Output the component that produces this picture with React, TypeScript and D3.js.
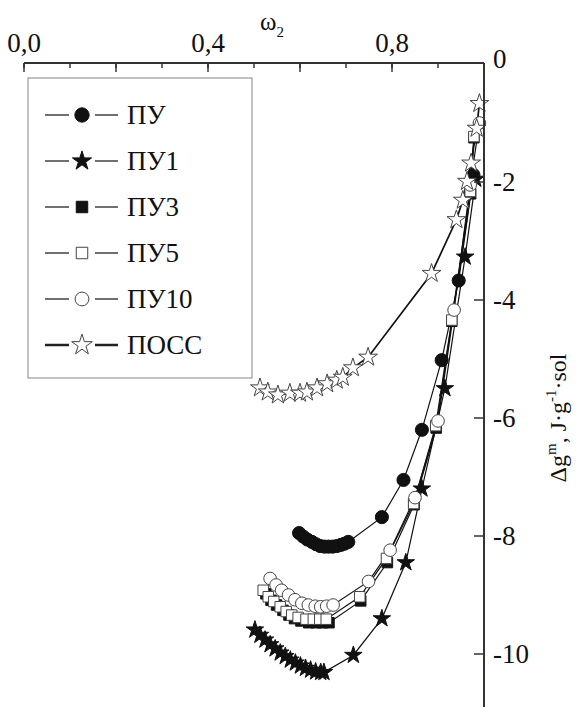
import * as d3 from "d3";

// ω2 (top axis) and Δg^m (right axis) values
const puX = [0.598, 0.607, 0.616, 0.626, 0.635, 0.644, 0.653, 0.662, 0.671, 0.68, 0.689, 0.697, 0.705, 0.778, 0.825, 0.865, 0.908, 0.945, 0.977];
const puY = [-7.95, -8.01, -8.06, -8.1, -8.14, -8.17, -8.18, -8.18, -8.18, -8.17, -8.15, -8.13, -8.1, -7.68, -7.05, -6.2, -5.02, -3.67, -1.88];

const pu1X = [0.502, 0.513, 0.524, 0.535, 0.546, 0.557, 0.568, 0.579, 0.59, 0.601, 0.612, 0.623, 0.634, 0.645, 0.652, 0.716, 0.778, 0.83, 0.865, 0.915, 0.959, 0.982];
const pu1Y = [-9.59, -9.68, -9.76, -9.84, -9.91, -9.98, -10.04, -10.1, -10.15, -10.2, -10.24, -10.27, -10.3, -10.31, -10.31, -10.02, -9.4, -8.45, -7.2, -5.5, -3.27, -1.95];

const pu3X = [0.526, 0.537, 0.549, 0.563, 0.576, 0.588, 0.602, 0.619, 0.635, 0.649, 0.663, 0.732, 0.79, 0.848, 0.896, 0.93, 0.971, 0.978];
const pu3Y = [-8.98, -9.09, -9.17, -9.26, -9.34, -9.4, -9.44, -9.47, -9.47, -9.47, -9.47, -9.1, -8.45, -7.47, -6.17, -4.36, -2.2, -1.25];

const pu5X = [0.52, 0.531, 0.543, 0.557, 0.57, 0.582, 0.596, 0.613, 0.629, 0.643, 0.657, 0.73, 0.788, 0.847, 0.895, 0.93, 0.97, 0.978];
const pu5Y = [-8.92, -9.03, -9.11, -9.2, -9.28, -9.34, -9.38, -9.41, -9.41, -9.41, -9.41, -9.03, -8.38, -7.45, -6.13, -4.34, -2.16, -1.23];

const pu10X = [0.535, 0.548, 0.56, 0.575, 0.589, 0.604, 0.618, 0.633, 0.645, 0.658, 0.672, 0.749, 0.796, 0.85, 0.9, 0.935, 0.97, 0.99];
const pu10Y = [-8.72, -8.83, -8.92, -9.0, -9.08, -9.14, -9.17, -9.19, -9.2, -9.19, -9.17, -8.77, -8.24, -7.35, -6.05, -4.17, -2.05, -1.0];

const possX = [0.513, 0.53, 0.552, 0.578, 0.6, 0.615, 0.637, 0.659, 0.68, 0.693, 0.715, 0.748, 0.886, 0.94, 0.954, 0.963, 0.972, 0.984, 0.99];
const possY = [-5.49, -5.56, -5.61, -5.58, -5.58, -5.56, -5.49, -5.42, -5.36, -5.31, -5.15, -4.97, -3.55, -2.64, -2.31, -1.99, -1.68, -1.09, -0.67];

const names = ["ПУ", "ПУ1", "ПУ3", "ПУ5", "ПУ10", "ПОСС"];
const xMinor = [0, 0.1, 0.2, 0.3, 0.4, 0.5, 0.6, 0.7, 0.8, 0.9, 1.0];
const xMajor = [0, 0.2, 0.4, 0.6, 0.8, 1.0];
const xLabelVals = [0, 0.4, 0.8];
const xLabels = ["0,0", "0,4", "0,8"];
const yTickVals = [-2, -4, -6, -8, -10];
const yLabels = ["-2", "-4", "-6", "-8", "-10"];

const W = 579;
const H = 707;
const FONT = "'Liberation Serif', 'DejaVu Serif', serif";

const x = d3.scaleLinear().domain([0, 1]).range([24, 484]);
const y = d3.scaleLinear().domain([0, -10]).range([64, 654]);
const top = 63;

const styles = [
  { type: d3.symbolCircle, size: 135, fill: "#111", stroke: "#111", lw: 1.2 },
  { type: d3.symbolStar, size: 95, fill: "#111", stroke: "#111", lw: 1.2 },
  { type: d3.symbolSquare, size: 110, fill: "#111", stroke: "#111", lw: 1.2 },
  { type: d3.symbolSquare, size: 110, fill: "#fff", stroke: "#444", lw: 1.2 },
  { type: d3.symbolCircle, size: 125, fill: "#fff", stroke: "#444", lw: 1.2 },
  { type: d3.symbolStar, size: 110, fill: "#fff", stroke: "#444", lw: 1.7 },
];

const series = [
  { xs: puX, ys: puY },
  { xs: pu1X, ys: pu1Y },
  { xs: pu3X, ys: pu3Y },
  { xs: pu5X, ys: pu5Y },
  { xs: pu10X, ys: pu10Y },
  { xs: possX, ys: possY },
];

export default function App() {
  const pathFor = (xs: number[], ys: number[]) =>
    d3
      .line<[number, number]>()
      .x((d) => x(d[0]))
      .y((d) => y(d[1]))(xs.map((v, i) => [v, ys[i]]) as [number, number][]) || "";

  return (
    <svg
      width={W}
      height={H}
      style={{ position: "absolute", left: 0, top: 0, background: "#fff", fontFamily: FONT }}
    >
      <rect width={W} height={H} fill="#fff" />

      {/* lines */}
      {series.map((s, k) => (
        <path key={"l" + k} d={pathFor(s.xs, s.ys)} fill="none" stroke="#111" strokeWidth={styles[k].lw} />
      ))}

      {/* markers */}
      {series.map((s, k) => (
        <g key={"m" + k}>
          {s.xs.map((v, i) => (
            <path
              key={i}
              transform={`translate(${x(v)},${y(s.ys[i])})`}
              d={d3.symbol().type(styles[k].type).size(styles[k].size)() || ""}
              fill={styles[k].fill}
              stroke={styles[k].stroke}
              strokeWidth={1}
            />
          ))}
        </g>
      ))}

      {/* top axis */}
      <line x1={x(0)} x2={x(1)} y1={top} y2={top} stroke="#333" strokeWidth={2} />
      {xMinor.map((v) => (
        <line key={"mi" + v} x1={x(v)} x2={x(v)} y1={top} y2={top + 5} stroke="#333" strokeWidth={1.5} />
      ))}
      {xMajor.map((v) => (
        <line key={"ma" + v} x1={x(v)} x2={x(v)} y1={top} y2={top + 9} stroke="#333" strokeWidth={1.5} />
      ))}
      {xLabelVals.map((v, i) => (
        <text key={"xl" + v} x={x(v)} y={52} textAnchor="middle" fontSize={27} fill="#111">
          {xLabels[i]}
        </text>
      ))}
      <text x={272} y={30} textAnchor="middle" fontSize={25} fill="#111">
        ω<tspan fontSize={15} dy={7}>2</tspan>
      </text>

      {/* right axis */}
      <line x1={x(1)} x2={x(1)} y1={top} y2={H} stroke="#333" strokeWidth={2} />
      {yTickVals.map((v) => (
        <line key={"yt" + v} x1={x(1) - 10} x2={x(1)} y1={y(v)} y2={y(v)} stroke="#333" strokeWidth={1.5} />
      ))}
      {yTickVals.map((v, i) => (
        <text key={"yl" + v} x={x(1) + 9} y={y(v)} dy="0.35em" fontSize={27} fill="#111">
          {yLabels[i]}
        </text>
      ))}
      <text x={x(1) + 9} y={y(0) - 5} dy="0.35em" fontSize={27} fill="#111">
        0
      </text>
      <text
        transform={`translate(566,418) rotate(-90)`}
        textAnchor="middle"
        fontSize={24}
        fill="#111"
      >
        Δg<tspan fontSize={15} dy={-10}>m</tspan>
        <tspan dy={10}>, J·g</tspan>
        <tspan fontSize={15} dy={-10}>-1</tspan>
        <tspan dy={10}>·sol</tspan>
      </text>

      {/* legend */}
      <rect x={28} y={78} width={224} height={300} fill="#fff" stroke="#999" strokeWidth={1.2} />
      {names.map((n, i) => {
        const ly = 115 + i * 46;
        const st = styles[i];
        return (
          <g key={"lg" + n}>
            <line x1={45} x2={69} y1={ly} y2={ly} stroke="#222" strokeWidth={i === 5 ? 2.5 : 1.3} />
            <line x1={95} x2={118} y1={ly} y2={ly} stroke="#222" strokeWidth={i === 5 ? 2.5 : 1.3} />
            <path
              transform={`translate(82,${ly})`}
              d={d3.symbol().type(st.type).size(st.size * 1.2)() || ""}
              fill={st.fill}
              stroke={st.stroke}
              strokeWidth={1}
            />
            <text x={127} y={ly} dy="0.33em" fontSize={27} fill="#111">
              {n}
            </text>
          </g>
        );
      })}
    </svg>
  );
}
